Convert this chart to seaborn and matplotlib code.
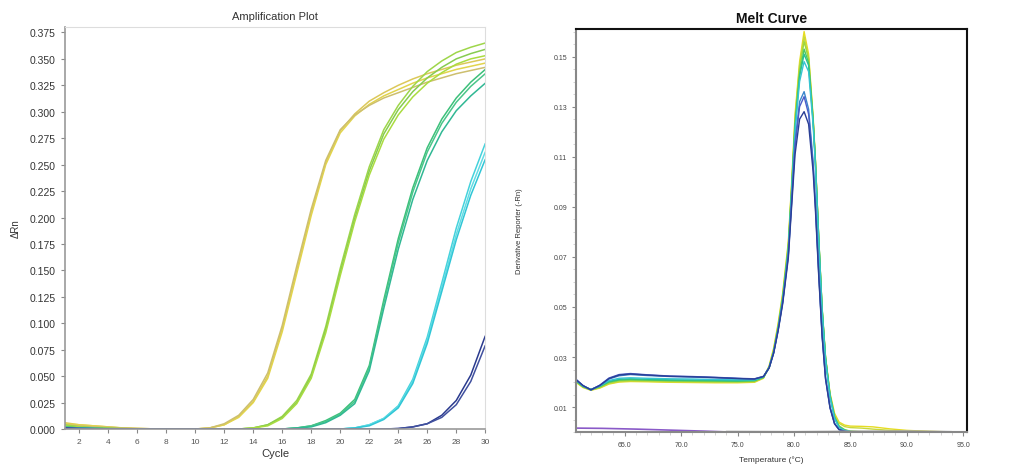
import pandas as pd
import seaborn as sns
import matplotlib.pyplot as plt
from matplotlib.ticker import MultipleLocator, FormatStrFormatter

sns.set_style("white")
plt.rcParams["font.family"] = ["Liberation Sans", "DejaVu Sans"]

# --------------------------------------
# Amplification plot data (delta Rn per cycle)
# --------------------------------------
cycles = list(range(1, 31))

amp_y1 = [0.006, 0.004, 0.003, 0.002, 0.001, 0.0005, 0.0002, 0, 0, 0, 0.001, 0.004, 0.012, 0.026, 0.050,
          0.095, 0.150, 0.205, 0.252, 0.282, 0.298, 0.310, 0.318, 0.325, 0.331, 0.336, 0.340, 0.344, 0.347, 0.350]
amp_y2 = [0.005, 0.004, 0.003, 0.002, 0.001, 0.0005, 0.0002, 0, 0, 0, 0.001, 0.004, 0.011, 0.025, 0.048,
          0.092, 0.147, 0.202, 0.250, 0.280, 0.296, 0.307, 0.315, 0.321, 0.327, 0.332, 0.336, 0.340, 0.343, 0.346]
amp_y3 = [0.004, 0.003, 0.002, 0.0015, 0.001, 0.0005, 0.0002, 0, 0, 0, 0.001, 0.005, 0.013, 0.028, 0.053,
          0.098, 0.154, 0.208, 0.254, 0.283, 0.297, 0.306, 0.313, 0.318, 0.323, 0.328, 0.332, 0.336, 0.339, 0.342]
amp_g1 = [0.004, 0.002, 0.001, 0.0005, 0.0003, 0.0002, 0.0001, 0, 0, 0, 0, 0, 0, 0.001, 0.004,
          0.012, 0.027, 0.052, 0.097, 0.152, 0.203, 0.248, 0.283, 0.306, 0.324, 0.338, 0.348, 0.356, 0.361, 0.365]
amp_g2 = [0.003, 0.002, 0.001, 0.0005, 0.0003, 0.0002, 0.0001, 0, 0, 0, 0, 0, 0, 0.001, 0.004,
          0.011, 0.025, 0.050, 0.094, 0.148, 0.199, 0.244, 0.279, 0.302, 0.319, 0.332, 0.342, 0.350, 0.355, 0.359]
amp_g3 = [0.003, 0.002, 0.001, 0.0005, 0.0003, 0.0002, 0.0001, 0, 0, 0, 0, 0, 0, 0.001, 0.003,
          0.010, 0.024, 0.048, 0.091, 0.145, 0.196, 0.240, 0.274, 0.297, 0.314, 0.327, 0.337, 0.345, 0.350, 0.353]
amp_t1 = [0.002, 0.001, 0.0005, 0.0003, 0.0002, 0.0001, 0, 0, 0, 0, 0, 0, 0, 0, 0,
          0, 0.001, 0.003, 0.008, 0.015, 0.028, 0.060, 0.122, 0.180, 0.228, 0.266, 0.293, 0.313, 0.328, 0.340]
amp_t2 = [0.002, 0.001, 0.0005, 0.0003, 0.0002, 0.0001, 0, 0, 0, 0, 0, 0, 0, 0, 0,
          0, 0.001, 0.003, 0.007, 0.014, 0.026, 0.058, 0.119, 0.176, 0.224, 0.262, 0.289, 0.309, 0.324, 0.336]
amp_t3 = [0.001, 0.001, 0.0005, 0.0003, 0.0002, 0.0001, 0, 0, 0, 0, 0, 0, 0, 0, 0,
          0, 0.001, 0.002, 0.006, 0.013, 0.024, 0.055, 0.114, 0.170, 0.217, 0.254, 0.281, 0.301, 0.315, 0.327]
amp_c1 = [0.001, 0.0005, 0.0003, 0.0002, 0.0001, 0, 0, 0, 0, 0, 0, 0, 0, 0, 0,
          0, 0, 0, 0, 0, 0.001, 0.004, 0.010, 0.022, 0.047, 0.087, 0.138, 0.190, 0.234, 0.270]
amp_c2 = [0.001, 0.0005, 0.0003, 0.0002, 0.0001, 0, 0, 0, 0, 0, 0, 0, 0, 0, 0,
          0, 0, 0, 0, 0, 0.001, 0.004, 0.010, 0.021, 0.045, 0.084, 0.134, 0.184, 0.227, 0.262]
amp_c3 = [0.001, 0.0005, 0.0003, 0.0002, 0.0001, 0, 0, 0, 0, 0, 0, 0, 0, 0, 0,
          0, 0, 0, 0, 0, 0.001, 0.003, 0.009, 0.020, 0.043, 0.081, 0.130, 0.179, 0.221, 0.255]
amp_b1 = [0.001, 0.0005, 0.0003, 0.0002, 0.0001, 0, 0, 0, 0, 0, 0, 0, 0, 0, 0,
          0, 0, 0, 0, 0, 0, 0, 0, 0.0005, 0.002, 0.005, 0.013, 0.027, 0.051, 0.088]
amp_b2 = [0.001, 0.0005, 0.0003, 0.0002, 0.0001, 0, 0, 0, 0, 0, 0, 0, 0, 0, 0,
          0, 0, 0, 0, 0, 0, 0, 0, 0.0004, 0.002, 0.005, 0.011, 0.023, 0.045, 0.079]

amp_wells = {"Y1": amp_y1, "Y2": amp_y2, "Y3": amp_y3, "G1": amp_g1, "G2": amp_g2, "G3": amp_g3,
             "T1": amp_t1, "T2": amp_t2, "T3": amp_t3, "C1": amp_c1, "C2": amp_c2, "C3": amp_c3,
             "B1": amp_b1, "B2": amp_b2}
amp_colors = {"Y1": "#dcc85a", "Y2": "#e2d44c", "Y3": "#cdbf6e", "G1": "#9ed64a", "G2": "#86cc50",
              "G3": "#aadc40", "T1": "#3cc07a", "T2": "#4ac68a", "T3": "#30b894", "C1": "#44d2dc",
              "C2": "#62dce4", "C3": "#30c6d6", "B1": "#2a3a8e", "B2": "#40509e"}

amp = pd.DataFrame([(w, c, v) for w, vals in amp_wells.items() for c, v in zip(cycles, vals)],
                   columns=["well", "cycle", "dRn"])

# --------------------------------------
# Melt curve data (-dRn/dT per temperature)
# --------------------------------------
temps = [60.7, 61.3, 62.0, 62.8, 63.6, 64.5, 65.5, 67.0, 69.0, 71.0, 73.0, 75.0, 76.5, 77.3, 77.8,
         78.2, 78.6, 79.0, 79.5, 79.8, 80.1, 80.5, 80.9, 81.3, 81.7, 81.9, 82.2, 82.5, 82.8, 83.2,
         83.6, 84.0, 84.5, 85.0, 86.0, 87.0, 88.5, 90.0, 92.0, 94.0]

melt_y1 = [0.0198, 0.0178, 0.0167, 0.0176, 0.0192, 0.0200, 0.0202, 0.0201, 0.0199, 0.0198, 0.0197, 0.0197,
           0.0199, 0.0215, 0.0265, 0.0335, 0.0435, 0.0555, 0.0760, 0.1000, 0.1270, 0.1480, 0.1600, 0.1510,
           0.1260, 0.1090, 0.0770, 0.0490, 0.0300, 0.0155, 0.0075, 0.0040, 0.0028, 0.0024, 0.0023, 0.0021,
           0.0013, 0.0007, 0.0003, 0.0001]
melt_y2 = [0.0200, 0.0180, 0.0168, 0.0178, 0.0194, 0.0202, 0.0204, 0.0203, 0.0201, 0.0200, 0.0199, 0.0199,
           0.0201, 0.0217, 0.0262, 0.0330, 0.0428, 0.0548, 0.0750, 0.0990, 0.1255, 0.1465, 0.1580, 0.1495,
           0.1250, 0.1080, 0.0765, 0.0485, 0.0295, 0.0150, 0.0070, 0.0035, 0.0022, 0.0018, 0.0016, 0.0012,
           0.0007, 0.0004, 0.0002, 0.0001]
melt_g1 = [0.0202, 0.0181, 0.0168, 0.0180, 0.0197, 0.0205, 0.0207, 0.0206, 0.0204, 0.0203, 0.0202, 0.0201,
           0.0203, 0.0218, 0.0260, 0.0325, 0.0422, 0.0540, 0.0740, 0.0980, 0.1240, 0.1450, 0.1560, 0.1490,
           0.1250, 0.1085, 0.0770, 0.0490, 0.0295, 0.0145, 0.0062, 0.0025, 0.0010, 0.0004, 0.0002, 0.0001,
           0.0001, 0, 0, 0]
melt_g2 = [0.0203, 0.0182, 0.0170, 0.0182, 0.0200, 0.0208, 0.0210, 0.0208, 0.0206, 0.0205, 0.0204, 0.0203,
           0.0205, 0.0219, 0.0258, 0.0322, 0.0418, 0.0535, 0.0735, 0.0975, 0.1230, 0.1430, 0.1530, 0.1475,
           0.1245, 0.1085, 0.0775, 0.0495, 0.0300, 0.0148, 0.0060, 0.0022, 0.0008, 0.0003, 0.0001, 0,
           0, 0, 0, 0]
melt_t1 = [0.0205, 0.0183, 0.0171, 0.0184, 0.0203, 0.0211, 0.0213, 0.0211, 0.0209, 0.0208, 0.0207, 0.0206,
           0.0207, 0.0220, 0.0258, 0.0320, 0.0415, 0.0530, 0.0730, 0.0965, 0.1220, 0.1420, 0.1510, 0.1465,
           0.1240, 0.1080, 0.0770, 0.0490, 0.0295, 0.0145, 0.0058, 0.0020, 0.0007, 0.0002, 0, 0,
           0, 0, 0, 0]
melt_c1 = [0.0206, 0.0184, 0.0170, 0.0185, 0.0206, 0.0215, 0.0217, 0.0215, 0.0213, 0.0212, 0.0210, 0.0209,
           0.0209, 0.0221, 0.0258, 0.0318, 0.0412, 0.0525, 0.0720, 0.0955, 0.1205, 0.1400, 0.1480, 0.1440,
           0.1225, 0.1065, 0.0755, 0.0475, 0.0285, 0.0138, 0.0054, 0.0018, 0.0006, 0.0002, 0, 0,
           0, 0, 0, 0]
melt_b1 = [0.0208, 0.0185, 0.0168, 0.0186, 0.0212, 0.0225, 0.0230, 0.0226, 0.0222, 0.0220, 0.0217, 0.0214,
           0.0212, 0.0222, 0.0258, 0.0318, 0.0410, 0.0520, 0.0710, 0.0930, 0.1160, 0.1320, 0.1360, 0.1290,
           0.1080, 0.0920, 0.0640, 0.0390, 0.0220, 0.0100, 0.0035, 0.0010, 0.0003, 0.0001, 0, 0,
           0, 0, 0, 0]
melt_b2 = [0.0210, 0.0186, 0.0169, 0.0188, 0.0216, 0.0230, 0.0234, 0.0229, 0.0224, 0.0222, 0.0219, 0.0215,
           0.0213, 0.0223, 0.0257, 0.0316, 0.0408, 0.0518, 0.0705, 0.0920, 0.1145, 0.1300, 0.1340, 0.1270,
           0.1065, 0.0905, 0.0630, 0.0385, 0.0215, 0.0098, 0.0034, 0.0010, 0.0003, 0.0001, 0, 0,
           0, 0, 0, 0]
melt_b3 = [0.0209, 0.0186, 0.0169, 0.0187, 0.0214, 0.0228, 0.0232, 0.0228, 0.0223, 0.0221, 0.0218, 0.0214,
           0.0212, 0.0222, 0.0256, 0.0315, 0.0405, 0.0512, 0.0695, 0.0905, 0.1110, 0.1250, 0.1280, 0.1230,
           0.1040, 0.0890, 0.0620, 0.0380, 0.0212, 0.0096, 0.0033, 0.0010, 0.0003, 0.0001, 0, 0,
           0, 0, 0, 0]

# no-template wells lying on the baseline
ntc_temps = [60.7, 63.0, 66.0, 69.0, 72.0, 74.5]
ntc_purple = [0.0016, 0.0015, 0.0012, 0.0008, 0.0004, 0.0]
ntc_temps2 = [74.0, 80.0, 86.0, 90.0, 94.0]
ntc_gray = [0.0003, 0.0002, 0.0004, 0.0005, 0.0002]

melt_wells = {"Y1": melt_y1, "Y2": melt_y2, "G1": melt_g1, "G2": melt_g2, "T1": melt_t1,
              "C1": melt_c1, "B1": melt_b1, "B2": melt_b2, "B3": melt_b3}
melt_colors = {"Y1": "#e6dc22", "Y2": "#c8d83a", "G1": "#9cd840", "G2": "#4cc860", "T1": "#28c090",
               "C1": "#36c4d2", "B1": "#3a86cc", "B2": "#4a5cc8", "B3": "#2a3f95"}

melt = pd.DataFrame([(w, t, v) for w, vals in melt_wells.items() for t, v in zip(temps, vals)],
                    columns=["well", "temp", "deriv"])

# --------------------------------------
# Figure
# --------------------------------------
fig = plt.figure(figsize=(10.11, 4.77), dpi=100)
ax1 = fig.add_axes([0.064, 0.0985, 0.416, 0.8425])
ax2 = fig.add_axes([0.570, 0.092, 0.386, 0.845])

# Amplification plot
sns.lineplot(data=amp, x="cycle", y="dRn", hue="well", palette=amp_colors, estimator=None,
             legend=False, linewidth=1.1, ax=ax1)
ax1.set_xlim(1, 30)
ax1.set_ylim(0, 0.38)
ax1.set_xticks(list(range(2, 31, 2)))
ax1.yaxis.set_major_locator(MultipleLocator(0.025))
ax1.yaxis.set_major_formatter(FormatStrFormatter("%.3f"))
ax1.tick_params(axis="y", labelsize=7.5, length=3, color="#888888", labelcolor="#333333", direction="out", left=True)
ax1.tick_params(axis="x", labelsize=6, length=3, color="#888888", labelcolor="#555555", direction="out", bottom=True)
for s in ["left", "bottom"]:
    ax1.spines[s].set_color("#999999")
    ax1.spines[s].set_linewidth(1.2)
for s in ["top", "right"]:
    ax1.spines[s].set_color("#dddddd")
    ax1.spines[s].set_linewidth(0.8)
ax1.set_title("Amplification Plot", fontsize=8, color="#333333", pad=6)
ax1.set_xlabel("Cycle", fontsize=8, color="#333333", labelpad=2)
ax1.set_ylabel("ΔRn", fontsize=7, color="#333333", labelpad=6)

# Melt curve
sns.lineplot(data=melt, x="temp", y="deriv", hue="well", palette=melt_colors, estimator=None,
             legend=False, linewidth=1.0, ax=ax2)
sns.lineplot(x=ntc_temps, y=ntc_purple, color="#8a5ac8", linewidth=1.2, ax=ax2)
sns.lineplot(x=ntc_temps2, y=ntc_gray, color="#aaaaaa", linewidth=1.0, ax=ax2)
ax2.set_xlim(60.7, 95.3)
ax2.set_ylim(0, 0.161)
ax2.set_xticks([65, 70, 75, 80, 85, 90, 95])
ax2.xaxis.set_major_formatter(FormatStrFormatter("%.1f"))
ax2.xaxis.set_minor_locator(MultipleLocator(1))
ax2.set_yticks([0.01, 0.03, 0.05, 0.07, 0.09, 0.11, 0.13, 0.15])
ax2.yaxis.set_major_formatter(FormatStrFormatter("%.2f"))
ax2.yaxis.set_minor_locator(MultipleLocator(0.005))
ax2.tick_params(axis="both", which="major", labelsize=5, length=3, color="#888888",
                labelcolor="#444444", direction="out", left=True, bottom=True)
ax2.tick_params(axis="both", which="minor", length=2, color="#cccccc", direction="out",
                left=True, bottom=True)
for s in ["left", "bottom"]:
    ax2.spines[s].set_color("#888888")
    ax2.spines[s].set_linewidth(1.5)
for s in ["top", "right"]:
    ax2.spines[s].set_color("#111111")
    ax2.spines[s].set_linewidth(1.5)
ax2.set_title("Melt Curve", fontsize=10, fontweight="bold", color="#111111", pad=5)
ax2.set_xlabel("Temperature (°C)", fontsize=6, color="#333333", labelpad=5)
ax2.set_ylabel("Derivative Reporter (-Rn)", fontsize=5.5, color="#333333", labelpad=22)

plt.savefig("out.png", dpi=100)
plt.close()
